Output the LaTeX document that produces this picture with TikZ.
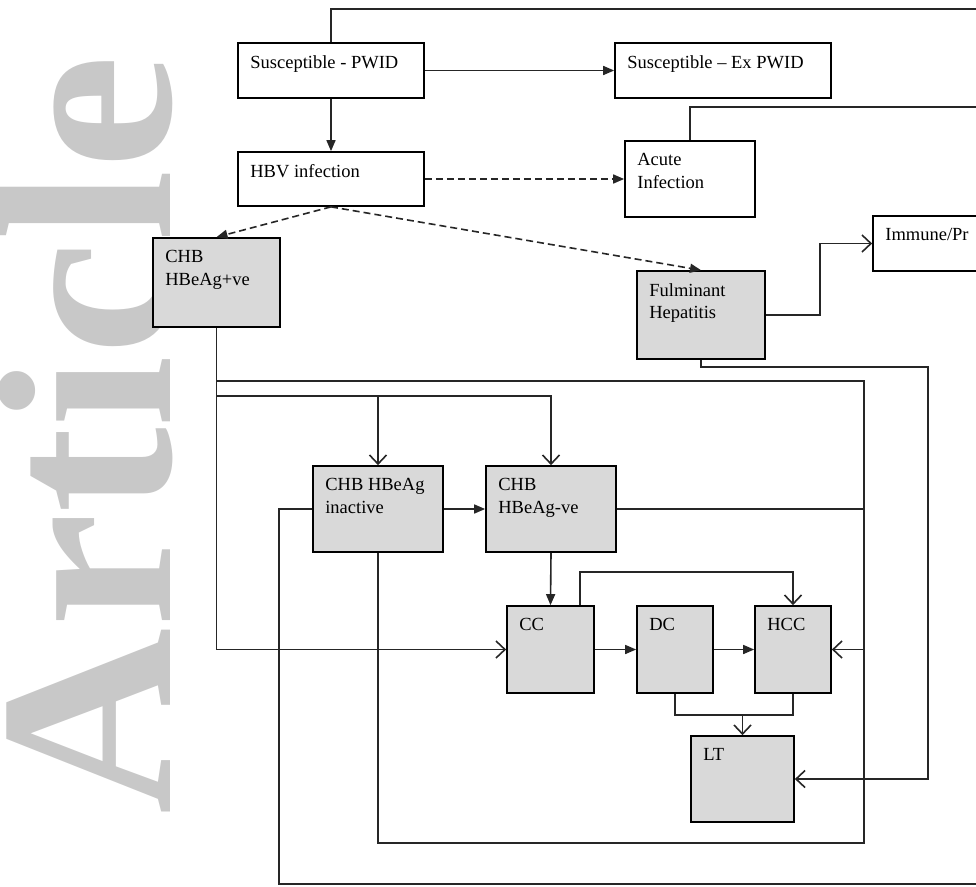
\documentclass[tikz,border=0pt]{standalone}
\usepackage{fontspec}
\setmainfont{Liberation Serif}
\usetikzlibrary{arrows.meta}
\definecolor{boxgrey}{HTML}{D9D9D9}
\definecolor{markgrey}{HTML}{C8C8C8}
\tikzset{
	whitebox/.style={draw=black, line width=1.7pt, fill=white, inner sep=0pt},
	greybox/.style={draw=black, line width=1.7pt, fill=boxgrey, inner sep=0pt},
	boxtext/.style={anchor=north west, align=left, inner sep=0pt, xshift=13pt, yshift=-13pt, font=\fontsize{18.5}{22.5}\selectfont},
	link/.style={line width=1.6pt, draw=black!85},
	solidhead/.style={-{Triangle[length=11pt,width=9pt]}},
	openhead/.style={-{Straight Barb[length=9pt,width=17pt,line width=1.6pt]}},
	flowdash/.style={dash pattern=on 7pt off 4pt}
}

\begin{document}
\begin{tikzpicture}[x=1pt,y=-1pt]
		\useasboundingbox (0,0) rectangle (976,886);
		% watermark
		\node[rotate=90, xscale=1.04, anchor=base east, inner sep=0pt, text=markgrey, font=\bfseries\fontsize{248}{248}\selectfont] (wmark) at (170,55) {Article};

		% top row
		\node[whitebox, minimum width=186pt, minimum height=55pt, label={[boxtext]north west:Susceptible - PWID}] (pwid) at (331,70.5) {};
		\node[whitebox, minimum width=216pt, minimum height=55pt, label={[boxtext]north west:Susceptible -- Ex PWID}] (expwid) at (723,70.5) {};
		\node[whitebox, minimum width=186pt, minimum height=54pt, label={[boxtext]north west:HBV infection}] (hbv) at (331,179) {};
		\node[whitebox, minimum width=130pt, minimum height=76pt, label={[boxtext]north west:Acute\\Infection}] (acute) at (690,179) {};
		\node[whitebox, minimum width=137pt, minimum height=55pt, label={[boxtext]north west:Immune/Pr}] (immune) at (941.5,243.5) {};

		% disease states
		\node[greybox, minimum width=127pt, minimum height=89pt, label={[boxtext]north west:CHB\\HBeAg+ve}] (chbpos) at (216.5,282.5) {};
		\node[greybox, minimum width=128pt, minimum height=88pt, label={[boxtext]north west:Fulminant\\Hepatitis}] (fulm) at (701,315) {};
		\node[greybox, minimum width=130pt, minimum height=86pt, label={[boxtext]north west:CHB HBeAg\\inactive}] (inact) at (378,509) {};
		\node[greybox, minimum width=130pt, minimum height=86pt, label={[boxtext]north west:CHB\\HBeAg-ve}] (chbneg) at (551,509) {};
		\node[greybox, minimum width=87pt, minimum height=87pt, label={[boxtext]north west:CC}] (cc) at (550.5,649.5) {};
		\node[greybox, minimum width=76pt, minimum height=87pt, label={[boxtext]north west:DC}] (dc) at (675,649.5) {};
		\node[greybox, minimum width=76pt, minimum height=87pt, label={[boxtext]north west:HCC}] (hcc) at (793,649.5) {};
		\node[greybox, minimum width=103pt, minimum height=86pt, label={[boxtext]north west:LT}] (lt) at (742.5,779) {};

		% junction points
		\coordinate (topexit) at (990,9);
		\coordinate (acuteexit) at (990,107);
		\coordinate (bottomexit) at (990,884);
		\coordinate (split1) at (216.5,381);
		\coordinate (split2) at (216.5,396);
		\coordinate (hccin) at (864,649.5);
		\coordinate (fulmturn) at (928,367);
		\coordinate (ccturn) at (580,572);
		\coordinate (ltin) at (742.5,715);

		% connectors
		\draw[link] (pwid.north) |- (topexit);
		\draw[link,solidhead] (pwid.east) -- (expwid.west);
		\draw[link,solidhead] (pwid.south) -- (hbv.north);
		\draw[link,flowdash,solidhead] (hbv.east) -- (acute.west);
		\draw[link] (acute.north) |- (acuteexit);
		\draw[link,flowdash,solidhead] (hbv.south) -- (chbpos.north);
		\draw[link,flowdash,solidhead] (hbv.south) -- (fulm.north);
		\draw[link,openhead] (fulm.east) -- ++(54,0) |- (immune.west);
		\draw[link,openhead] (fulm.south) |- (fulmturn) |- (lt.east);

		\draw[link,openhead] (chbpos.south) |- (cc.west);
		\draw[link] (split1) -| (hccin);
		\draw[link,openhead] (split2) -| (inact.north);
		\draw[link,openhead] (split2) -| (chbneg.north);
		\draw[link,solidhead] (inact.east) -- (chbneg.west);
		\draw[link] (chbneg.east) -| (hccin);
		\draw[link,openhead] (inact.south) |- (864,843) -- (hccin) -- (hcc.east);
		\draw[link] (inact.west) -| (279,884) -- (bottomexit);
		\draw[link,solidhead] (chbneg.south) -- (cc.north);

		\draw[link,openhead] (cc.north -| ccturn) -- (ccturn) -| (hcc.north);
		\draw[link,solidhead] (cc.east) -- (dc.west);
		\draw[link,solidhead] (dc.east) -- (hcc.west);
		\draw[link] (dc.south) |- (ltin) -| (hcc.south);
		\draw[link,openhead] (ltin) -- (lt.north);
\end{tikzpicture}
\end{document}
